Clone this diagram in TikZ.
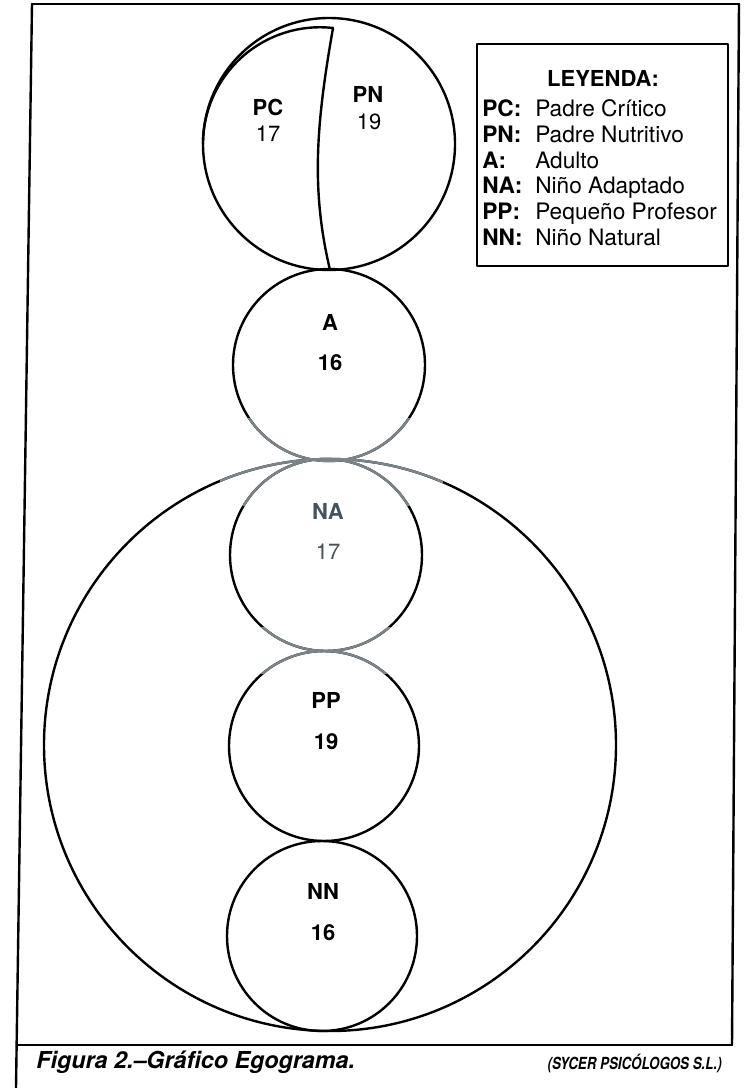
\documentclass[tikz,border=0pt]{standalone}
\usepackage{fontspec}
\setmainfont{TeX Gyre Heros}
\newfontfamily\condfont[FakeStretch=0.8]{TeX Gyre Heros}
\definecolor{scangrey}{HTML}{7A8489}
\definecolor{nagrey}{HTML}{44525C}
\begin{document}
\begin{tikzpicture}[x=0.75pt,y=-0.75pt,line cap=round,line join=round,
  ego/.style={line width=1.8pt},
  frame/.style={line width=1.8pt},
  lbl/.style={font=\fontsize{16.5}{18}\bfseries\selectfont,anchor=base,inner sep=0pt},
  val/.style={font=\fontsize{16.5}{18}\selectfont,anchor=base,inner sep=0pt},
  ley/.style={font=\fontsize{17}{19}\selectfont,anchor=base west,inner sep=0pt}]
  \useasboundingbox (0,0) rectangle (743,1088);

  % Frame (slightly skewed, as scanned).
  \draw[frame] (32,4) -- (739,4);
  \draw[frame] (32,4) -- (16,1088);
  \draw[frame] (739,4) -- (732,1045);
  \draw[frame] (17,1045) -- (732,1045);

  % Parent circle: PC and PN.
  \draw[ego] (329,144) circle[radius=126];
  \coordinate (pcTop) at (333,28);
  \draw[ego] (pcTop) arc[start angle=-83.6,end angle=-180,radius=117];
  \draw[ego] (pcTop) .. controls (316,125) and (311,190) .. (330,270);
  \node[lbl] (pcLbl) at (268,115) {PC};
  \node[val] (pcVal) at (268,141) {17};
  \node[lbl] (pnLbl) at (368,103) {PN};
  \node[val] (pnVal) at (369,129) {19};

  % Adult circle.
  \draw[ego] (329,365) circle[radius=96];
  \node[lbl] (aLbl) at (330,330) {A};
  \node[lbl] (aVal) at (330,370) {16};

  % Child circle with NA, PP and NN.
  \draw[ego] (330,745) circle[radius=286];
  \draw[ego] (326,555) circle[radius=96];
  \draw[ego] (324,746) circle[radius=95];
  \draw[ego] (322,936) circle[radius=95];
  \node[lbl,text=nagrey] (naLbl) at (328,519) {NA};
  \node[val,text=nagrey] (naVal) at (328,559) {17};
  \node[lbl] (ppLbl) at (326,708) {PP};
  \node[lbl] (ppVal) at (326,749) {19};
  \node[lbl] (nnLbl) at (323,899) {NN};
  \node[lbl] (nnVal) at (323,940) {16};

  % Faint bands of the scan.
  \begin{scope}
    \clip (220,418) rectangle (443,505);
    \draw[ego,scangrey] (329,365) circle[radius=96];
    \draw[ego,scangrey] (330,745) circle[radius=286];
    \draw[ego,scangrey] (326,555) circle[radius=96];
  \end{scope}
  \begin{scope}
    \clip (240,627) rectangle (410,673);
    \draw[ego,scangrey] (326,555) circle[radius=96];
    \draw[ego,scangrey] (324,746) circle[radius=95];
  \end{scope}

  % Legend.
  \draw[line width=1.6pt] (477,44) rectangle (728,266);
  \node[font=\fontsize{16.5}{18}\bfseries\selectfont,anchor=base,inner sep=0pt] (leyTitle) at (603,86) {LEYENDA:};
  \foreach \ab/\nm [count=\i from 0] in {PC/Padre Crítico,PN/Padre Nutritivo,A/Adulto,
      NA/Niño Adaptado,PP/Pequeño Profesor,NN/Niño Natural} {
    \node[ley,font=\fontsize{17}{19}\bfseries\selectfont] (ab\i) at (482,{117+25.6*\i}) {\ab:};
    \node[ley] (nm\i) at (535,{117+25.6*\i}) {\nm};
  }

  % Caption.
  \node[font=\fontsize{17.5}{19}\bfseries\itshape\selectfont,anchor=base west,inner sep=0pt]
    (figCap) at (36,1068) {Figura 2.–Gráfico Egograma.};
  \node[font=\condfont\fontsize{12.5}{14}\bfseries\itshape\selectfont,anchor=base east,inner sep=0pt]
    (figSrc) at (722,1069) {(SYCER PSICÓLOGOS S.L.)};
\end{tikzpicture}
\end{document}
